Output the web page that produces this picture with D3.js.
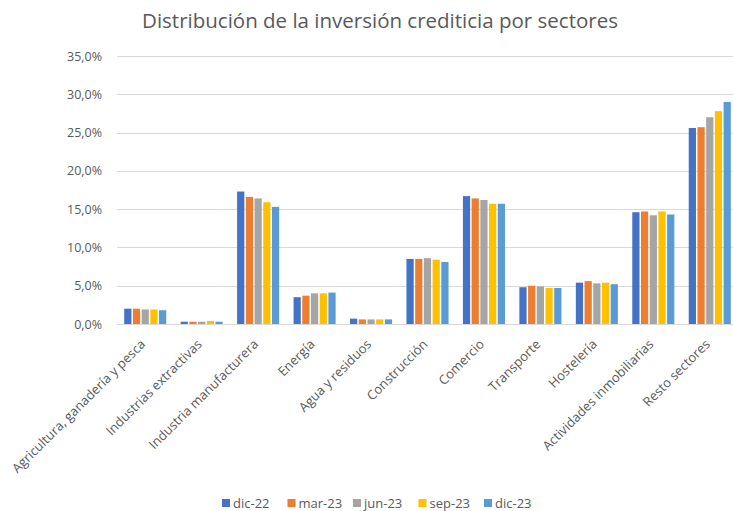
<!DOCTYPE html>
<html>
<head>
<meta charset="utf-8">
<script src="https://cdn.jsdelivr.net/npm/d3@7"></script>
<style>
  body { margin: 0; background: #fff; }
  text { font-family: "Open Sans", "Liberation Sans", sans-serif; fill: #595959; }
</style>
</head>
<body>
<svg id="chart"></svg>
<script>
// Data (percent of total credit)
const sectors = ['Agricultura, ganadería y pesca', 'Industrias extractivas', 'Industria manufacturera',
  'Energía', 'Agua y residuos', 'Construcción', 'Comercio', 'Transporte', 'Hostelería',
  'Actividades inmobiliarias', 'Resto sectores'];
const periods = ['dic-22', 'mar-23', 'jun-23', 'sep-23', 'dic-23'];
const dic22 = [2.0, 0.3, 17.3, 3.5, 0.7, 8.5, 16.7, 4.8, 5.4, 14.6, 25.6];
const mar23 = [2.0, 0.3, 16.6, 3.7, 0.6, 8.5, 16.4, 5.0, 5.6, 14.7, 25.7];
const jun23 = [1.9, 0.3, 16.4, 4.0, 0.6, 8.6, 16.2, 4.9, 5.3, 14.2, 27.0];
const sep23 = [1.9, 0.4, 15.9, 4.0, 0.6, 8.4, 15.7, 4.7, 5.4, 14.7, 27.8];
const dic23 = [1.8, 0.3, 15.3, 4.1, 0.6, 8.1, 15.7, 4.7, 5.2, 14.3, 29.0];
const seriesValues = [dic22, mar23, jun23, sep23, dic23];
const colors = ['#4472C4', '#ED7D31', '#A5A5A5', '#FFC000', '#5B9BD5'];
const yTicks = [0, 5, 10, 15, 20, 25, 30, 35];

const width = 733, height = 511;
const margin = { top: 56, right: -5, bottom: 187, left: 117 };

const svg = d3.select('#chart')
  .attr('width', width)
  .attr('height', height);

const locale = d3.formatLocale({ decimal: ',', thousands: '.', grouping: [3], currency: ['', '€'] });
const fmt = d => locale.format('.1f')(d) + '%';

const x = d3.scaleBand()
  .domain(sectors)
  .range([margin.left, width - margin.right])
  .paddingInner(0.255)
  .paddingOuter(0.1275);

const xSub = d3.scaleBand()
  .domain(periods)
  .range([0, x.bandwidth()])
  .paddingInner(0.17);

const y = d3.scaleLinear()
  .domain([0, 35])
  .range([height - margin.bottom, margin.top]);

// Title
svg.append('text')
  .attr('x', 380)
  .attr('y', 28)
  .attr('text-anchor', 'middle')
  .style('font-size', '20.5px')
  .text('Distribución de la inversión crediticia por sectores');

// Gridlines
svg.append('g')
  .selectAll('line')
  .data(yTicks)
  .join('line')
  .attr('x1', margin.left)
  .attr('x2', width - margin.right)
  .attr('y1', d => Math.round(y(d)) + 0.5)
  .attr('y2', d => Math.round(y(d)) + 0.5)
  .attr('stroke', '#d9d9d9')
  .attr('stroke-width', 1);

// Y axis labels
const yAxis = d3.axisLeft(y).tickValues(yTicks).tickFormat(fmt).tickSize(0).tickPadding(15);
const yAxisG = svg.append('g')
  .attr('transform', `translate(${margin.left},0)`)
  .call(yAxis);
yAxisG.select('.domain').remove();
yAxisG.selectAll('text')
  .style('font-size', '12.5px')
  .attr('fill', '#595959');

// Bars
const rows = sectors.map((s, i) => ({ sector: s, values: periods.map((p, j) => ({ period: p, value: seriesValues[j][i], k: j })) }));

svg.append('g')
  .selectAll('g')
  .data(rows)
  .join('g')
  .attr('transform', d => `translate(${x(d.sector)},0)`)
  .selectAll('rect')
  .data(d => d.values)
  .join('rect')
  .attr('x', d => xSub(d.period))
  .attr('width', xSub.bandwidth())
  .attr('y', d => y(d.value))
  .attr('height', d => y(0) - y(d.value))
  .attr('fill', d => colors[d.k]);

// Baseline
svg.append('line')
  .attr('x1', margin.left)
  .attr('x2', width - margin.right)
  .attr('y1', y(0) + 0.5)
  .attr('y2', y(0) + 0.5)
  .attr('stroke', '#d9d9d9');

// X axis labels, rotated
const xAxis = d3.axisBottom(x).tickSize(0).tickPadding(0);
const xAxisG = svg.append('g')
  .attr('transform', `translate(0,${y(0)})`)
  .call(xAxis);
xAxisG.select('.domain').remove();
xAxisG.selectAll('text')
  .style('font-size', '13px')
  .attr('fill', '#595959')
  .attr('text-anchor', 'end')
  .attr('dy', 0)
  .attr('transform', 'translate(1,21) rotate(-45)');

// Legend
const legend = svg.append('g')
  .selectAll('g')
  .data(periods)
  .join('g')
  .attr('transform', (d, i) => `translate(${222 + i * 65.5},508)`);

legend.append('rect')
  .attr('x', 0)
  .attr('y', -9)
  .attr('width', 8)
  .attr('height', 8)
  .attr('fill', (d, i) => colors[i]);

legend.append('text')
  .attr('x', 11)
  .attr('y', 0)
  .style('font-size', '13px')
  .text(d => d);
</script>
</body>
</html>
